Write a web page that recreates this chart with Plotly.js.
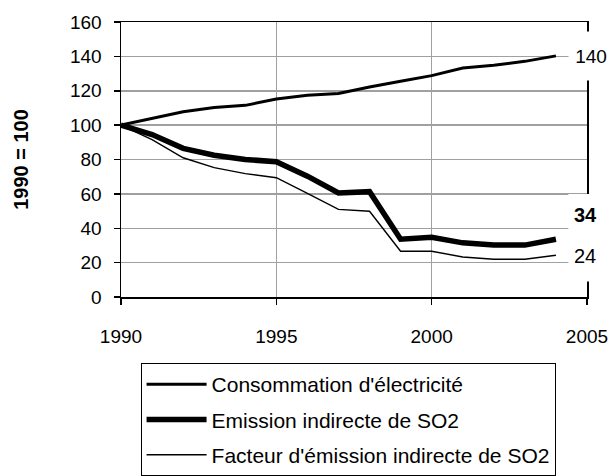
<!DOCTYPE html>
<html>
<head>
<meta charset="utf-8">
<script src="https://cdn.plot.ly/plotly-3.0.1.min.js"></script>
<style>html,body{margin:0;padding:0;background:#fff;}#chart{width:608px;height:476px;}</style>
</head>
<body>
<div id="chart"></div>
<script>
const years = [1990,1991,1992,1993,1994,1995,1996,1997,1998,1999,2000,2001,2002,2003,2004];
const consommation = [100,104,107.8,110.3,111.5,115.2,117.4,118.4,122.2,125.5,128.8,133.2,134.8,137.1,140.3];
const emission = [100,94.5,86.5,82.5,80,78.7,70.3,60.5,61.3,33.6,34.8,31.5,30.2,30.2,33.6];
const facteur = [100,91.5,81,75.3,71.8,69.4,60.3,51,49.9,26.6,26.6,23.3,22,22,24.3];
const names = ["Consommation d'électricité", "Emission indirecte de SO2", "Facteur d'émission indirecte de SO2"];
const endLabels = ["140", "34", "24"];
const yTicks = [0,20,40,60,80,100,120,140,160];
const xTicks = [1990,1995,2000,2005];

const FONT = 'Liberation Sans, Arial, sans-serif';
const traces = [
  {x: years, y: consommation, name: names[0], mode: 'lines', line: {color: '#000', width: 3}, legendgroup: 'a'},
  {x: years, y: emission, name: names[1], mode: 'lines', line: {color: '#000', width: 5.5}, legendgroup: 'b'},
  {x: years, y: facteur, name: names[2], mode: 'lines', line: {color: '#000', width: 1.4}, legendgroup: 'c'}
];

const layout = {
  width: 608, height: 476,
  margin: {l: 121, r: 21, t: 22, b: 178.5, autoexpand: false},
  paper_bgcolor: '#fff', plot_bgcolor: '#fff',
  font: {family: FONT, size: 19, color: '#000'},
  showlegend: true,
  legend: {
    x: 0.042, y: -0.24, xanchor: 'left', yanchor: 'top',
    bordercolor: '#000', borderwidth: 1, bgcolor: '#fff',
    traceorder: 'grouped', tracegroupgap: 5, itemwidth: 60,
    entrywidth: 430,
    font: {family: FONT, size: 21, color: '#000'}
  },
  xaxis: {
    range: [1989.9999, 2005.0001], tickvals: xTicks, ticktext: xTicks.map(String),
    showgrid: true, gridcolor: '#a0a0a0', gridwidth: 1.5,
    showline: true, linecolor: '#000', linewidth: 1.5, mirror: true,
    ticks: 'outside', ticklen: 6, tickcolor: '#000', tickwidth: 1.5,
    ticklabelstandoff: 16, ticklabeloverflow: 'allow',
    zeroline: false, fixedrange: true
  },
  yaxis: {
    range: [0, 160], tickvals: yTicks, ticktext: yTicks.map(String),
    showgrid: true, gridcolor: '#a0a0a0', gridwidth: 1.5,
    showline: true, linecolor: '#000', linewidth: 1.5, mirror: true,
    ticks: 'outside', ticklen: 6, tickcolor: '#000', tickwidth: 1.5,
    ticklabelstandoff: 8, ticklabeloverflow: 'allow',
    zeroline: false, fixedrange: true,
    title: {text: '<b>1990 = 100</b>', font: {family: FONT, size: 20}, standoff: 36}
  },
  shapes: [
    {type: 'rect', xref: 'paper', yref: 'y', x0: 0.96, x1: 1.1, y0: 9, y1: 60,
     fillcolor: '#fff', line: {width: 0}, layer: 'above'}
  ],
  annotations: [
    {xref: 'paper', yref: 'y', x: 0.96, y: 140, xanchor: 'left', yanchor: 'middle',
     text: endLabels[0], showarrow: false, bgcolor: '#fff', width: 42, height: 46, align: 'center',
     font: {family: FONT, size: 19}},
    {xref: 'paper', yref: 'y', x: 0.968, y: 48, xanchor: 'left', yanchor: 'middle',
     text: '<b>' + endLabels[1] + '</b>', showarrow: false, font: {family: FONT, size: 20}},
    {xref: 'paper', yref: 'y', x: 0.968, y: 24, xanchor: 'left', yanchor: 'middle',
     text: endLabels[2], showarrow: false, font: {family: FONT, size: 20}}
  ]
};

Plotly.newPlot('chart', traces, layout, {staticPlot: true, displayModeBar: false});
</script>
</body>
</html>
